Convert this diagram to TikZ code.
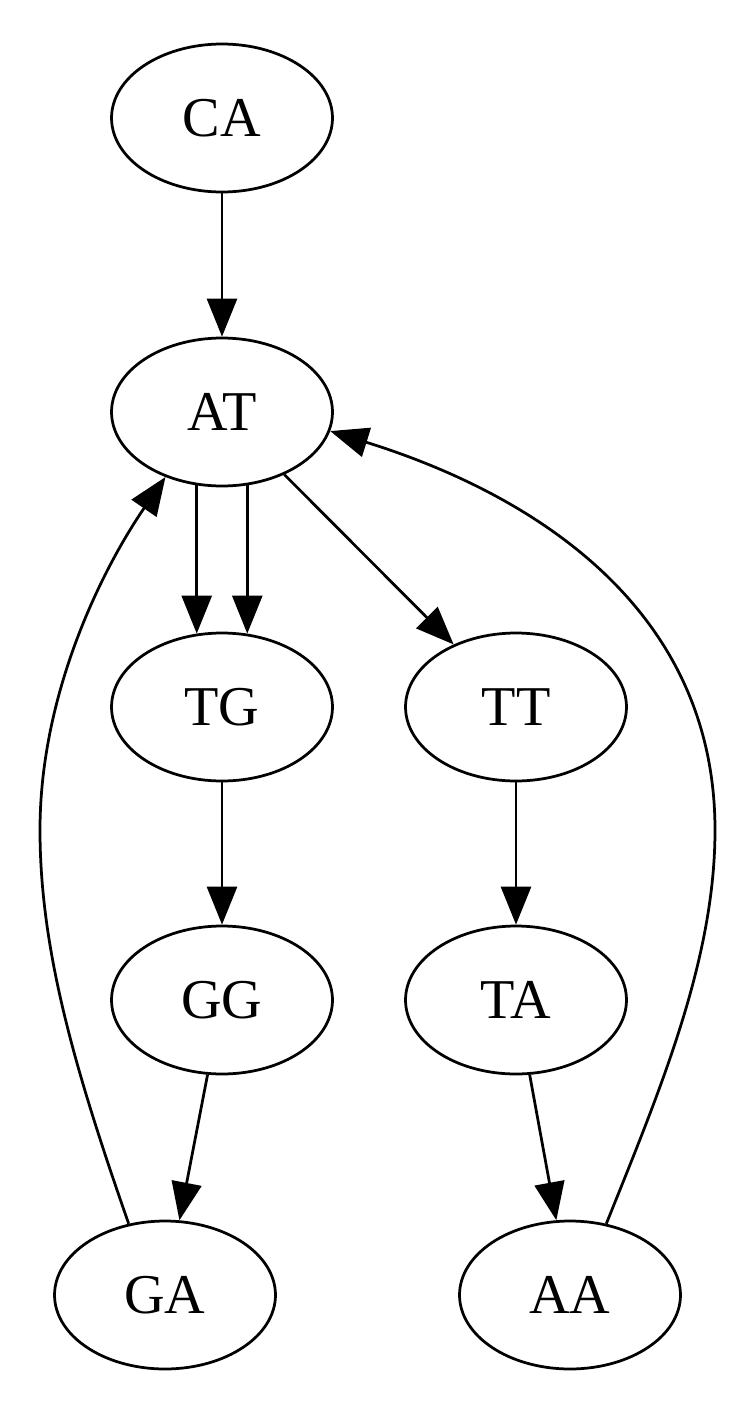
\documentclass[tikz,border=0pt]{standalone}
\usepackage{fontspec}
\setmainfont{Liberation Serif}
\usetikzlibrary{positioning, arrows.meta, shapes.geometric}

\tikzset{
    kmer/.style={ellipse, draw=black, line width=0.055cm, inner sep=0pt,
        minimum width=4.42cm, minimum height=2.96cm,
        font=\fontsize{32}{38}\selectfont},
    edge/.style={line width=0.055cm, -{Triangle[length=0.76cm, width=0.6cm]}}
}

\begin{document}
\begin{tikzpicture}[x=0.02cm, y=-0.02cm]
            \useasboundingbox (0, 0) rectangle (745, 1410);
            \node[kmer] (CA) at (222, 118) {CA};
            \node[kmer] (AT) at (222, 412) {AT};
            \node[kmer] (TG) at (222, 707) {TG};
            \node[kmer] (TT) at (516, 707) {TT};
            \node[kmer] (GG) at (222, 1000) {GG};
            \node[kmer] (TA) at (516, 1000) {TA};
            \node[kmer] (GA) at (165, 1295) {GA};
            \node[kmer] (AA) at (570, 1295) {AA};

            \draw[edge] (CA) -- (AT);
            \draw[edge] (AT.-109) -- (TG.109);
            \draw[edge] (AT.-71) -- (TG.71);
            \draw[edge] (AT) -- (TT);
            \draw[edge] (TG) -- (GG);
            \draw[edge] (TT) -- (TA);
            \draw[edge] (GG) -- (GA);
            \draw[edge] (TA) -- (AA);
            % loops back to AT
            \draw[edge] (GA.117) .. controls (75, 1070) and (40, 950) .. (40, 830)
                .. controls (40, 690) and (105, 565) .. (AT.229);
            \draw[edge] (AA.63) .. controls (660, 1090) and (715, 960) .. (715, 830)
                .. controls (715, 600) and (520, 490) .. (AT.-10);
\end{tikzpicture}
\end{document}
